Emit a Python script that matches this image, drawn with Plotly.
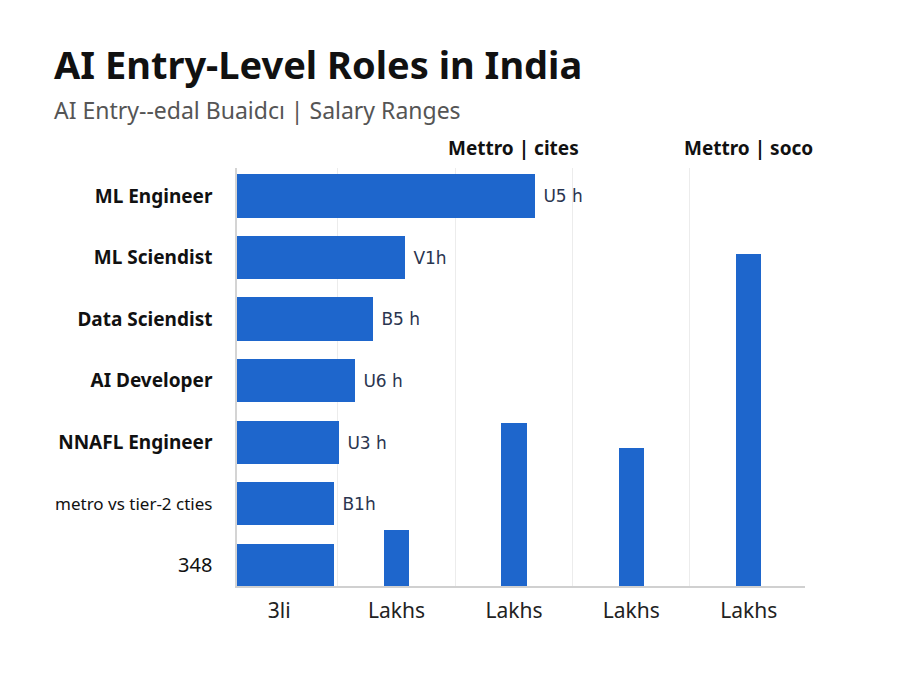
import plotly.graph_objects as go

# Horizontal bars (roles)
roles = ["ML Engineer", "ML Sciendist", "Data Sciendist", "AI Developer",
         "NNAFL Engineer", "metro vs tier-2 cties", "348"]
role_bold = [True, True, True, True, True, False, False]
role_sizes = [19, 19, 19, 19, 19, 17, 20]
role_values = [10.2, 5.75, 4.65, 4.05, 3.5, 3.3, 3.3]
role_labels = ["U5 h", "V1h", "B5 h", "U6 h", "U3 h", "B1h", ""]

# Vertical bars (columns)
col_ticks = ["3li", "Lakhs", "Lakhs", "Lakhs", "Lakhs"]
col_values = [None, 2.7, 7.8, 6.6, 15.9]

headers = ["Mettro | cites", "Mettro | soco"]
header_cols = [2, 4]

BLUE = "#1E66CC"
FONT = "Noto Sans"

fig = go.Figure()

fig.add_trace(go.Bar(
    y=list(range(len(roles))), x=role_values, orientation="h",
    marker=dict(color=BLUE, line=dict(width=0)), width=0.7,
    text=[" " + t if t else "" for t in role_labels], textposition="outside",
    cliponaxis=False,
    textfont=dict(family="DejaVu Sans", size=17, color="#2A3550"),
    xaxis="x", yaxis="y", showlegend=False, hoverinfo="skip",
))

fig.add_trace(go.Bar(
    x=list(range(len(col_ticks))), y=col_values,
    marker=dict(color=BLUE, line=dict(width=0)), width=0.215,
    xaxis="x2", yaxis="y2", showlegend=False, hoverinfo="skip",
))

ticktext = []
for r, b, s in zip(roles, role_bold, role_sizes):
    label = f"<b>{r}</b>" if b else r
    ticktext.append(f"<span style='font-size:{s}px'>{label}</span>")

fig.update_layout(
    width=900, height=675,
    margin=dict(l=237, r=95, t=168, b=89),
    paper_bgcolor="white", plot_bgcolor="white",
    font=dict(family=FONT, color="#111"),
    bargap=0,
    xaxis=dict(range=[0, 19.42], visible=False, domain=[0, 1]),
    yaxis=dict(
        range=[6.34, -0.455], tickmode="array",
        tickvals=list(range(len(roles))), ticktext=ticktext,
        tickfont=dict(family=FONT, size=19, color="#111"),
        showline=True, linecolor="#d4d4d4", linewidth=1.5,
        showgrid=False, zeroline=False, ticks="", ticklabelstandoff=19,
    ),
    xaxis2=dict(
        overlaying="x", side="bottom", range=[-0.36, 4.48],
        tickmode="array", tickvals=list(range(len(col_ticks))), ticktext=col_ticks,
        tickfont=dict(family=FONT, size=21, color="#222"),
        showgrid=False, zeroline=False, ticks="", ticklabelstandoff=5,
        showline=True, linecolor="#d0d0d0", linewidth=1.5,
        minor=dict(tickmode="linear", tick0=0.5, dtick=1, showgrid=True,
                   gridcolor="#ececec", gridwidth=1, ticks=""),
    ),
    yaxis2=dict(overlaying="y", range=[0, 20], visible=False),
)

fig.add_annotation(
    text="<b>AI Entry-Level Roles in India</b>", xref="paper", yref="paper",
    x=(52-237)/568, y=1 + (168-64)/418, xanchor="left", yanchor="middle",
    showarrow=False, font=dict(family=FONT, size=38, color="#111"),
)
fig.add_annotation(
    text="AI Entry--edal Buaidcı | Salary Ranges", xref="paper", yref="paper",
    x=(52-237)/568, y=1 + (168-110)/418, xanchor="left", yanchor="middle",
    showarrow=False, font=dict(family=FONT, size=23, color="#555"),
)
for h, c in zip(headers, header_cols):
    fig.add_annotation(
        text=f"<b>{h}</b>", xref="x2", yref="paper", x=c,
        y=1 + (168-148)/418, xanchor="center", yanchor="middle",
        showarrow=False, font=dict(family=FONT, size=19, color="#111"),
    )

fig.write_html("out.html")
